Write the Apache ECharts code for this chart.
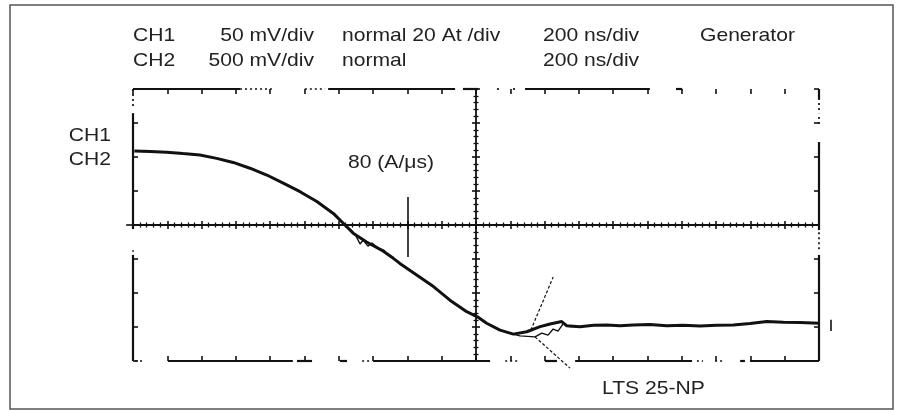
<!DOCTYPE html>
<html><head><meta charset="utf-8">
<script src="https://cdn.jsdelivr.net/npm/echarts@6/dist/echarts.min.js"></script>
<style>html,body{margin:0;padding:0;background:#fff}#c{width:901px;height:410px}</style>
</head><body><div id="c"></div>
<script>
// ---- data (time in ns, amplitude in divisions) ----
const timeNs = [4, 50, 98, 146, 195, 244, 292, 341, 390, 438, 487, 536, 584, 613, 642, 681, 730, 759, 778, 827, 876, 924, 973, 1004, 1031, 1070, 1109, 1148, 1187, 1216, 1250, 1264, 1303, 1343, 1381, 1420, 1458, 1507, 1556, 1604, 1653, 1702, 1750, 1799, 1848, 1896, 1945, 2000];
const ch2Trace = [2.18, 2.16, 2.14, 2.10, 2.06, 1.96, 1.84, 1.67, 1.47, 1.23, 0.98, 0.69, 0.34, 0.05, -0.24, -0.50, -0.77, -0.98, -1.13, -1.47, -1.81, -2.21, -2.55, -2.70, -2.89, -3.09, -3.21, -3.14, -2.99, -2.91, -2.84, -2.96, -2.99, -2.95, -2.94, -2.96, -2.94, -2.93, -2.96, -2.95, -2.97, -2.95, -2.94, -2.90, -2.84, -2.86, -2.87, -2.89];
const ch1TimeA = [633, 650, 662, 671, 685, 697, 714, 735];
const ch1TraceA = [-0.12, -0.32, -0.56, -0.44, -0.62, -0.53, -0.68, -0.76];
const ch1TimeB = [1085, 1128, 1172, 1192, 1210, 1225, 1239, 1254, 1274, 1303];
const ch1TraceB = [-3.15, -3.26, -3.29, -3.18, -3.24, -3.06, -3.12, -2.91, -2.99, -2.99];
const slopeUpper = [[1160, -3.09], [1225, -1.53]];
const slopeLower = [[1172, -3.29], [1274, -4.21]];
const markerTime = 800, markerRange = [0.82, -0.94];
const levelTime = 2035, levelRange = [-2.79, -3.12];
const centerStub = [[-20, 0], [0, 0]];
// border pieces visible on the scanned screen (x ranges in ns, y ranges in div)
const topSolid = [[0, 312], [569, 939], [962, 1006], [1143, 1507], [1583, 1601]];
const topDotted = [[312, 405], [501, 560], [1061, 1067], [1108, 1120]];
const bottomSolid = [[102, 466], [478, 522], [603, 624], [700, 1041], [1201, 1236], [1289, 1630], [1770, 1784], [1799, 2000]];
const bottomDotted = [[6, 29], [668, 691], [1085, 1128], [1644, 1662], [1697, 1726]];
const leftSolid = [[3.29, -0.12], [-0.88, -4]];
const leftDotted = [[4, 3.47], [-0.74, -0.79]];
const rightSolid = [[4, 3.68], [2.44, -0.15], [-0.88, -4]];
const rightDotted = [[3.59, 3.29], [3.18, 2.88], [-0.21, -0.74]];
const headerRow1 = ['CH1', '50 mV/div', 'normal 20 At /div', '200 ns/div', 'Generator'];
const headerRow2 = ['CH2', '500 mV/div', 'normal', '200 ns/div'];
const sideLabels = ['CH1', 'CH2'];
const slopeLabel = '80 (A/μs)';
const deviceLabel = 'LTS 25-NP';

const X0 = 0, X1 = 2000, Y0 = -4, Y1 = 4;
const hseg = (arr, y) => arr.map(s => ({ coords: [[s[0], y], [s[1], y]] }));
const vseg = (arr, x) => arr.map(s => ({ coords: [[x, s[0]], [x, s[1]]] }));
const solidBorder = [].concat(hseg(topSolid, Y1), hseg(bottomSolid, Y0), vseg(leftSolid, X0), vseg(rightSolid, X1));
const dottedBorder = [].concat(hseg(topDotted, Y1), hseg(bottomDotted, Y0), vseg(leftDotted, X0), vseg(rightDotted, X1));

const chart = echarts.init(document.getElementById('c'), null, { renderer: 'canvas' });
const INK = '#111';
const FONT = '"Liberation Sans", Arial, Helvetica, sans-serif';
const SX = 1.11;
function txt(s, x, y, align) {
  return { type: 'text', x: x, y: y, scaleX: SX, silent: true,
    style: { text: s, fill: '#222', font: '19px ' + FONT, align: align || 'left', verticalAlign: 'middle' } };
}
const baseX = { type: 'value', min: X0, max: X1, interval: 100, axisLabel: { show: false }, splitLine: { show: false } };
const baseY = { type: 'value', min: Y0, max: Y1, interval: 1, axisLabel: { show: false }, splitLine: { show: false } };
const tickStyle = { color: INK, width: 1.6 };
const noLine = { show: false, onZero: false };
const centerLine = { show: true, onZero: false, lineStyle: { color: INK, width: 1.8 } };
const minor = { show: true, splitNumber: 5, length: 2.5, lineStyle: { color: INK, width: 1.3 } };

chart.setOption({
  animation: false,
  backgroundColor: '#fff',
  grid: { left: 133, top: 89, width: 686, height: 272, containLabel: false },
  xAxis: [
    Object.assign({}, baseX, { position: 'bottom', axisLine: noLine, axisTick: { inside: true, length: 5, lineStyle: tickStyle } }),
    Object.assign({}, baseX, { position: 'top', axisLine: noLine, axisTick: { inside: true, length: 5, lineStyle: tickStyle } }),
    Object.assign({}, baseX, { position: 'bottom', offset: -136, axisLine: centerLine, axisTick: { inside: false, length: 4, lineStyle: tickStyle }, minorTick: minor }),
    Object.assign({}, baseX, { position: 'top', offset: -136, axisLine: noLine, axisTick: { inside: false, length: 4, lineStyle: tickStyle }, minorTick: minor })
  ],
  yAxis: [
    Object.assign({}, baseY, { position: 'left', axisLine: noLine, axisTick: { inside: true, length: 5, lineStyle: tickStyle } }),
    Object.assign({}, baseY, { position: 'right', axisLine: noLine, axisTick: { inside: true, length: 5, lineStyle: tickStyle } }),
    Object.assign({}, baseY, { position: 'left', offset: -343, axisLine: centerLine, axisTick: { inside: false, length: 4, lineStyle: tickStyle }, minorTick: minor }),
    Object.assign({}, baseY, { position: 'right', offset: -343, axisLine: noLine, axisTick: { inside: false, length: 4, lineStyle: tickStyle }, minorTick: minor })
  ],
  series: [
    { type: 'lines', coordinateSystem: 'cartesian2d', silent: true, clip: false, data: solidBorder,
      lineStyle: { color: INK, width: 2.2, opacity: 1, curveness: 0 } },
    { type: 'lines', coordinateSystem: 'cartesian2d', silent: true, clip: false, data: dottedBorder,
      lineStyle: { color: INK, width: 1.7, opacity: 1, type: [2, 3], curveness: 0 } },
    { type: 'lines', coordinateSystem: 'cartesian2d', silent: true, clip: false,
      data: [{ coords: [[markerTime, markerRange[0]], [markerTime, markerRange[1]]] }, { coords: [[levelTime, levelRange[0]], [levelTime, levelRange[1]]] }, { coords: centerStub }],
      lineStyle: { color: INK, width: 1.6, opacity: 1, curveness: 0 } },
    { type: 'lines', coordinateSystem: 'cartesian2d', silent: true, clip: false,
      data: [{ coords: slopeUpper }, { coords: slopeLower }],
      lineStyle: { color: INK, width: 1.2, opacity: 1, type: [3, 2], curveness: 0 } },
    { type: 'line', silent: true, showSymbol: false, data: ch1TimeA.map((t, i) => [t, ch1TraceA[i]]),
      lineStyle: { color: INK, width: 1.4 }, z: 3 },
    { type: 'line', silent: true, showSymbol: false, data: ch1TimeB.map((t, i) => [t, ch1TraceB[i]]),
      lineStyle: { color: INK, width: 1.4 }, z: 3 },
    { type: 'line', silent: true, showSymbol: false, data: timeNs.map((t, i) => [t, ch2Trace[i]]),
      lineStyle: { color: INK, width: 3 }, z: 4 }
  ],
  graphic: [
    { type: 'rect', silent: true, shape: { x: 10, y: 5, width: 883, height: 404 }, style: { fill: null, stroke: '#555', lineWidth: 1.5 } },
    txt(headerRow1[0], 133, 36), txt(headerRow1[1], 314, 36, 'right'), txt(headerRow1[2], 342, 36), txt(headerRow1[3], 543, 36), txt(headerRow1[4], 700, 36),
    txt(headerRow2[0], 133, 61), txt(headerRow2[1], 314, 61, 'right'), txt(headerRow2[2], 342, 61), txt(headerRow2[3], 543, 61),
    txt(sideLabels[0], 111, 136, 'right'), txt(sideLabels[1], 111, 159.5, 'right'),
    txt(slopeLabel, 348, 163), txt(deviceLabel, 602, 389)
  ]
});
</script></body></html>
